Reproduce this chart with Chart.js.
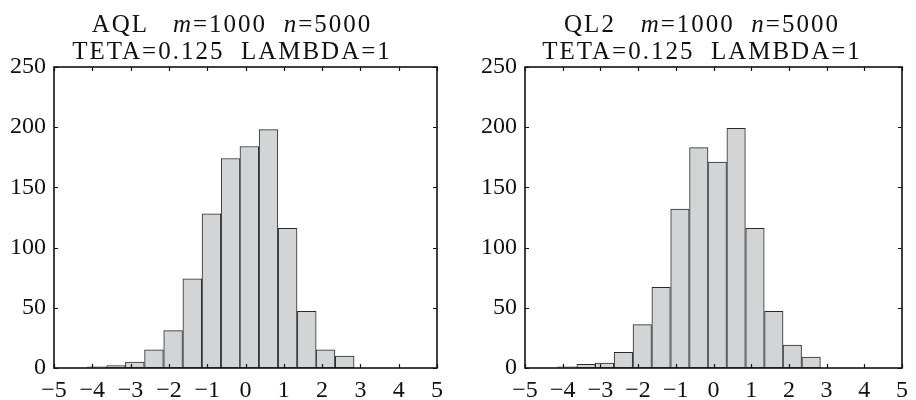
<!DOCTYPE html>
<html>
<head>
    <meta charset="UTF-8">
    <style>
        * { margin: 0; padding: 0; box-sizing: border-box; }
        body { background: #fff; width: 916px; height: 400px; position: relative; overflow: hidden; }
        .panel { position: absolute; top: 0; height: 400px; }
        .title {
            position: absolute;
            font-family: "Liberation Serif", "Times New Roman", serif;
            font-size: 25px;
            letter-spacing: 2px;
            color: #111;
            white-space: pre;
            line-height: 27px;
            text-align: center;
            transform: translateX(-50%);
            top: 10px;
        }
    </style>
</head>
<body>
    <div class="panel" style="left:0; width:458px;"><canvas id="aql"></canvas></div>
    <div class="panel" style="left:471px; width:445px;"><canvas id="ql2"></canvas></div>
    <div class="title" style="left:232px;">AQL   <i>m</i>=1000  <i>n</i>=5000<br>TETA=0.125  LAMBDA=1</div>
    <div class="title" style="left:702px;">QL2   <i>m</i>=1000  <i>n</i>=5000<br>TETA=0.125  LAMBDA=1</div>

    <script src="https://cdn.jsdelivr.net/npm/chart.js@4/dist/chart.umd.min.js"></script>
    <script>
        // histogram bins (centres, width ~0.5)
        const binCenters = [-3.88, -3.38, -2.89, -2.39, -1.89, -1.39, -0.89, -0.39, 0.10, 0.60, 1.10, 1.60, 2.09, 2.59, 3.09, 3.59, 4.09];
        const aqlCounts = [1, 2, 5, 15, 31, 74, 128, 174, 184, 198, 116, 47, 15, 10, 0, 0, 0];
        const ql2Counts = [1, 3, 4, 13, 36, 67, 132, 183, 171, 199, 116, 47, 19, 9, 0, 0, 0];
        const xTickValues = [-5, -4, -3, -2, -1, 0, 1, 2, 3, 4, 5];
        const yTickValues = [0, 50, 100, 150, 200, 250];

        const serif = '"Liberation Serif", "Times New Roman", serif';

        // box around the plot with inward ticks on all four sides (matlab style)
        const framePlugin = {
            id: 'frame',
            afterDatasetsDraw(chart) {
                const { ctx, chartArea: a, scales: { x, y } } = chart;
                ctx.save();
                ctx.strokeStyle = '#111';
                ctx.lineWidth = 1.2;
                ctx.beginPath();
                x.ticks.forEach(t => {
                    const px = Math.round(x.getPixelForValue(t.value)) + 0.5;
                    ctx.moveTo(px, a.bottom); ctx.lineTo(px, a.bottom - 4);
                    ctx.moveTo(px, a.top); ctx.lineTo(px, a.top + 4);
                });
                y.ticks.forEach(t => {
                    const py = Math.round(y.getPixelForValue(t.value)) + 0.5;
                    ctx.moveTo(a.left, py); ctx.lineTo(a.left + 4, py);
                    ctx.moveTo(a.right, py); ctx.lineTo(a.right - 4, py);
                });
                ctx.stroke();
                ctx.lineWidth = 1.6;
                ctx.strokeRect(a.left, a.top, a.right - a.left, a.bottom - a.top);
                ctx.restore();
            }
        };

        function makeHist(id, counts, rightPad) {
            const el = document.getElementById(id);
            const w = el.parentElement.clientWidth;
            el.width = w; el.height = 400;
            return new Chart(el, {
                type: 'bar',
                data: {
                    datasets: [{
                        data: binCenters.map((c, i) => ({ x: c, y: counts[i] })),
                        backgroundColor: '#d3d4d6',
                        borderColor: '#2a2a2a',
                        borderWidth: 1,
                        borderSkipped: false,
                        barPercentage: 1,
                        categoryPercentage: 1
                    }]
                },
                options: {
                    responsive: false,
                    animation: false,
                    layout: { padding: { top: 67, right: rightPad, left: 0, bottom: 0 } },
                    plugins: { legend: { display: false }, tooltip: { enabled: false } },
                    scales: {
                        x: {
                            type: 'linear',
                            min: -5, max: 5,
                            offset: false,
                            afterBuildTicks: s => { s.ticks = xTickValues.map(v => ({ value: v })); },
                            afterFit: s => { s.height = 32; },
                            grid: { display: false, drawTicks: false },
                            border: { display: false },
                            ticks: {
                                padding: 8,
                                maxRotation: 0,
                                color: '#111',
                                font: { family: serif, size: 24 },
                                callback: v => String(v).replace('-', '\u2212')
                            }
                        },
                        y: {
                            min: 0, max: 250,
                            afterBuildTicks: s => { s.ticks = yTickValues.map(v => ({ value: v })); },
                            afterFit: s => { s.width = 54; },
                            grid: { display: false, drawTicks: false },
                            border: { display: false },
                            ticks: {
                                padding: 8,
                                color: '#111',
                                font: { family: serif, size: 24 }
                            }
                        }
                    }
                },
                plugins: [framePlugin]
            });
        }

        makeHist('aql', aqlCounts, 21);
        makeHist('ql2', ql2Counts, 8);
    </script>
</body>
</html>
